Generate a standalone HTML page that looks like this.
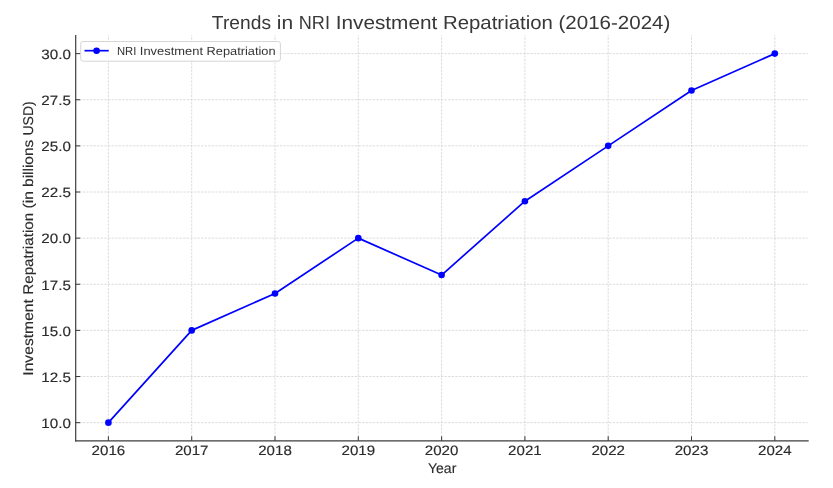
<!DOCTYPE html>
<html lang="en"><head><meta charset="utf-8"><title>Trends in NRI Investment Repatriation (2016-2024)</title>
<style>html,body{margin:0;padding:0;background:#fff}body{width:833px;height:488px;overflow:hidden}svg{display:block;will-change:transform;opacity:.999}text{font-family:"Liberation Sans",sans-serif;text-rendering:geometricPrecision;stroke-linejoin:round;}.b{stroke:#2b2b2b;stroke-width:.15px}</style></head><body>
<svg width="833" height="488" viewBox="0 0 833 488">
<rect width="833" height="488" fill="#ffffff"/>
<g stroke="#d3d3d3" stroke-width="0.8" stroke-dasharray="2.4 1.18" fill="none">
<line x1="108.40" y1="440.78" x2="108.40" y2="35.00"/>
<line x1="191.70" y1="440.78" x2="191.70" y2="35.00"/>
<line x1="275.00" y1="440.78" x2="275.00" y2="35.00"/>
<line x1="358.30" y1="440.78" x2="358.30" y2="35.00"/>
<line x1="441.60" y1="440.78" x2="441.60" y2="35.00"/>
<line x1="524.90" y1="440.78" x2="524.90" y2="35.00"/>
<line x1="608.20" y1="440.78" x2="608.20" y2="35.00"/>
<line x1="691.50" y1="440.78" x2="691.50" y2="35.00"/>
<line x1="774.80" y1="440.78" x2="774.80" y2="35.00"/>
<line x1="75.70" y1="422.65" x2="807.60" y2="422.65"/>
<line x1="75.70" y1="376.52" x2="807.60" y2="376.52"/>
<line x1="75.70" y1="330.39" x2="807.60" y2="330.39"/>
<line x1="75.70" y1="284.26" x2="807.60" y2="284.26"/>
<line x1="75.70" y1="238.13" x2="807.60" y2="238.13"/>
<line x1="75.70" y1="192.00" x2="807.60" y2="192.00"/>
<line x1="75.70" y1="145.87" x2="807.60" y2="145.87"/>
<line x1="75.70" y1="99.74" x2="807.60" y2="99.74"/>
<line x1="75.70" y1="53.61" x2="807.60" y2="53.61"/>
</g>
<polyline points="108.40,422.65 191.70,330.39 275.00,293.49 358.30,238.13 441.60,275.03 524.90,201.23 608.20,145.87 691.50,90.51 774.80,53.61" fill="none" stroke="#0000ff" stroke-width="1.7" stroke-linejoin="round" stroke-linecap="butt"/>
<g fill="#0000ff"><circle cx="108.40" cy="422.65" r="3.3"/><circle cx="191.70" cy="330.39" r="3.3"/><circle cx="275.00" cy="293.49" r="3.3"/><circle cx="358.30" cy="238.13" r="3.3"/><circle cx="441.60" cy="275.03" r="3.3"/><circle cx="524.90" cy="201.23" r="3.3"/><circle cx="608.20" cy="145.87" r="3.3"/><circle cx="691.50" cy="90.51" r="3.3"/><circle cx="774.80" cy="53.61" r="3.3"/></g>
<g stroke="#3d3d3d" stroke-width="1.2" fill="none">
<path d="M75.70 35.50 V440.78" stroke-linecap="square"/>
<path d="M75.70 440.78 H808.10" stroke-linecap="square"/>
</g><g stroke="#3d3d3d" stroke-width="1.05">
<line x1="108.40" y1="440.78" x2="108.40" y2="436.28"/>
<line x1="191.70" y1="440.78" x2="191.70" y2="436.28"/>
<line x1="275.00" y1="440.78" x2="275.00" y2="436.28"/>
<line x1="358.30" y1="440.78" x2="358.30" y2="436.28"/>
<line x1="441.60" y1="440.78" x2="441.60" y2="436.28"/>
<line x1="524.90" y1="440.78" x2="524.90" y2="436.28"/>
<line x1="608.20" y1="440.78" x2="608.20" y2="436.28"/>
<line x1="691.50" y1="440.78" x2="691.50" y2="436.28"/>
<line x1="774.80" y1="440.78" x2="774.80" y2="436.28"/>
<line x1="75.70" y1="422.65" x2="80.20" y2="422.65"/>
<line x1="75.70" y1="376.52" x2="80.20" y2="376.52"/>
<line x1="75.70" y1="330.39" x2="80.20" y2="330.39"/>
<line x1="75.70" y1="284.26" x2="80.20" y2="284.26"/>
<line x1="75.70" y1="238.13" x2="80.20" y2="238.13"/>
<line x1="75.70" y1="192.00" x2="80.20" y2="192.00"/>
<line x1="75.70" y1="145.87" x2="80.20" y2="145.87"/>
<line x1="75.70" y1="99.74" x2="80.20" y2="99.74"/>
<line x1="75.70" y1="53.61" x2="80.20" y2="53.61"/>
</g>
<rect x="80.70" y="41.50" width="199.70" height="19.70" rx="2.2" ry="2.2" fill="#ffffff" fill-opacity="0.8" stroke="#cccccc" stroke-opacity="0.8" stroke-width="1.0"/>
<line x1="84.50" y1="50.68" x2="108.70" y2="50.68" stroke="#0000ff" stroke-width="1.7"/>
<circle cx="96.60" cy="50.68" r="3.3" fill="#0000ff"/>
<text y="54.50" font-size="11.8" fill="#333333"><tspan x="116.90" textLength="19.38" lengthAdjust="spacingAndGlyphs">NRI</tspan> <tspan x="139.82" textLength="63.16" lengthAdjust="spacingAndGlyphs">Investment</tspan> <tspan x="206.52" textLength="69.06" lengthAdjust="spacingAndGlyphs">Repatriation</tspan></text>
<text y="28.60" font-size="19.0" fill="#383838"><tspan x="211.89" textLength="59.15" lengthAdjust="spacingAndGlyphs">Trends</tspan> <tspan x="276.74" textLength="16.35" lengthAdjust="spacingAndGlyphs">in</tspan> <tspan x="298.80" textLength="31.18" lengthAdjust="spacingAndGlyphs">NRI</tspan> <tspan x="335.68" textLength="101.62" lengthAdjust="spacingAndGlyphs">Investment</tspan> <tspan x="443.00" textLength="109.83" lengthAdjust="spacingAndGlyphs">Repatriation</tspan> <tspan x="558.53" textLength="111.79" lengthAdjust="spacingAndGlyphs">(2016-2024)</tspan></text>
<text y="472.80" font-size="14.1" fill="#2b2b2b" class="b"><tspan x="427.97" textLength="28.35" lengthAdjust="spacingAndGlyphs">Year</tspan></text>
<g transform="translate(33.20 374.90) rotate(-90)"><text y="0.00" font-size="14.1" fill="#2b2b2b" class="b"><tspan x="-0.80" textLength="76.64" lengthAdjust="spacingAndGlyphs">Investment</tspan> <tspan x="80.10" textLength="81.98" lengthAdjust="spacingAndGlyphs">Repatriation</tspan> <tspan x="166.33" textLength="17.43" lengthAdjust="spacingAndGlyphs">(in</tspan> <tspan x="188.02" textLength="47.03" lengthAdjust="spacingAndGlyphs">billions</tspan> <tspan x="239.31" textLength="34.33" lengthAdjust="spacingAndGlyphs">USD)</tspan></text></g>
<text x="108.40" y="455.20" font-size="13.63" textLength="33.60" lengthAdjust="spacingAndGlyphs" fill="#2b2b2b" text-anchor="middle" class="b">2016</text>
<text x="191.70" y="455.20" font-size="13.63" textLength="33.60" lengthAdjust="spacingAndGlyphs" fill="#2b2b2b" text-anchor="middle" class="b">2017</text>
<text x="275.00" y="455.20" font-size="13.63" textLength="33.60" lengthAdjust="spacingAndGlyphs" fill="#2b2b2b" text-anchor="middle" class="b">2018</text>
<text x="358.30" y="455.20" font-size="13.63" textLength="33.60" lengthAdjust="spacingAndGlyphs" fill="#2b2b2b" text-anchor="middle" class="b">2019</text>
<text x="441.60" y="455.20" font-size="13.63" textLength="33.60" lengthAdjust="spacingAndGlyphs" fill="#2b2b2b" text-anchor="middle" class="b">2020</text>
<text x="524.90" y="455.20" font-size="13.63" textLength="33.60" lengthAdjust="spacingAndGlyphs" fill="#2b2b2b" text-anchor="middle" class="b">2021</text>
<text x="608.20" y="455.20" font-size="13.63" textLength="33.60" lengthAdjust="spacingAndGlyphs" fill="#2b2b2b" text-anchor="middle" class="b">2022</text>
<text x="691.50" y="455.20" font-size="13.63" textLength="33.60" lengthAdjust="spacingAndGlyphs" fill="#2b2b2b" text-anchor="middle" class="b">2023</text>
<text x="774.80" y="455.20" font-size="13.63" textLength="33.60" lengthAdjust="spacingAndGlyphs" fill="#2b2b2b" text-anchor="middle" class="b">2024</text>
<text x="70.90" y="427.95" font-size="13.63" textLength="29.60" lengthAdjust="spacingAndGlyphs" fill="#2b2b2b" text-anchor="end" class="b">10.0</text>
<text x="70.90" y="381.82" font-size="13.63" textLength="29.60" lengthAdjust="spacingAndGlyphs" fill="#2b2b2b" text-anchor="end" class="b">12.5</text>
<text x="70.90" y="335.69" font-size="13.63" textLength="29.60" lengthAdjust="spacingAndGlyphs" fill="#2b2b2b" text-anchor="end" class="b">15.0</text>
<text x="70.90" y="289.56" font-size="13.63" textLength="29.60" lengthAdjust="spacingAndGlyphs" fill="#2b2b2b" text-anchor="end" class="b">17.5</text>
<text x="70.90" y="243.43" font-size="13.63" textLength="29.60" lengthAdjust="spacingAndGlyphs" fill="#2b2b2b" text-anchor="end" class="b">20.0</text>
<text x="70.90" y="197.30" font-size="13.63" textLength="29.60" lengthAdjust="spacingAndGlyphs" fill="#2b2b2b" text-anchor="end" class="b">22.5</text>
<text x="70.90" y="151.17" font-size="13.63" textLength="29.60" lengthAdjust="spacingAndGlyphs" fill="#2b2b2b" text-anchor="end" class="b">25.0</text>
<text x="70.90" y="105.04" font-size="13.63" textLength="29.60" lengthAdjust="spacingAndGlyphs" fill="#2b2b2b" text-anchor="end" class="b">27.5</text>
<text x="70.90" y="58.91" font-size="13.63" textLength="29.60" lengthAdjust="spacingAndGlyphs" fill="#2b2b2b" text-anchor="end" class="b">30.0</text>
</svg></body></html>
